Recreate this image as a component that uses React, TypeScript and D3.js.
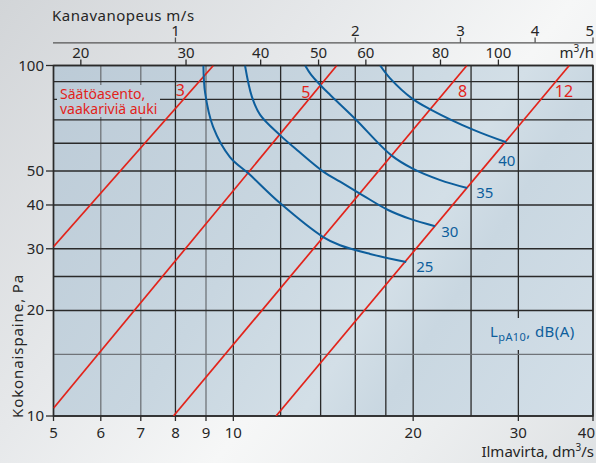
import React from "react";
import * as d3 from "d3";

// ---- data ----
const flowTicks = [5, 6, 7, 8, 9, 10, 20, 30, 40];
const flowGrid = [5, 6, 7, 8, 9, 10, 12, 14, 16, 18, 20, 25, 30, 40];
const flowGridLight = [6, 7, 9];
const pressureTicks = [10, 20, 30, 40, 50, 100];
const pressureGrid = [10, 15, 20, 25, 30, 40, 50, 60, 70, 80, 90, 100];
const pressureGridLight = [15];
const velocityTicks = [1, 2, 3, 4, 5]; // m/s
const ductAreaDm2 = 0.8; // q [dm3/s] = v [m/s] * 10 * A [dm2]
const m3hTicks = [20, 30, 40, 50, 60, 80, 100]; // m3/h

const damperLabels = ["3", "5", "8", "12"];
const damper3 = [[5, 30.4], [9.26, 100]];
const damper5 = [[5, 10.52], [14.9, 100]];
const damper8 = [[7.94, 10], [24.6, 100]];
const damper12 = [[11.79, 10], [36.5, 100]];
const damperLines = [damper3, damper5, damper8, damper12];

const soundLabels = ["25", "30", "35", "40"];
const sound25 = [[8.91, 100], [8.97, 83.5], [9.25, 66.8], [9.87, 54.8], [10.63, 49.0], [11.97, 40.5], [14.14, 32.4], [15.09, 30.7], [16.94, 29.0], [19.47, 27.5]];
const sound30 = [[10.46, 100], [10.74, 81.5], [11.09, 72.3], [11.97, 63.3], [12.78, 57.4], [14.14, 49.8], [15.09, 46.6], [16.44, 42.7], [18.16, 38.7], [19.77, 36.5], [21.77, 34.8]];
const sound35 = [[13.19, 100], [13.5, 94.0], [14.07, 87.0], [14.53, 82.4], [16.0, 70.4], [18.37, 55.5], [20.0, 50.7], [22.2, 47.1], [24.63, 44.7]];
const sound40 = [[17.61, 100], [18.3, 91.9], [19.9, 80.6], [21.36, 75.0], [25.24, 65.5], [28.63, 60.4]];
const soundCurves = [sound25, sound30, sound35, sound40];

// ---- layout ----
const W = 596, H = 463;
const X0 = 53.5, X1 = 593, Y0 = 65.5, Y1 = 416;
const FONT = "'Noto Sans', 'Open Sans', sans-serif";
const RED = "#e2231a";
const BLUE = "#0d5e9c";
const TXT = "#262626";
const damperLabelPos = [[-16, 96], [-15, 98], [12, 96.5], [11, 96.7]]; // dx from line at p=88, baseline y
const soundLabelOff = [[10, 10], [6, 11], [9, 10], [-8, 24]];

export default function App() {
  const x = d3.scaleLog().domain([5, 40]).range([X0, X1]);
  const y = d3.scaleLog().domain([10, 100]).range([Y1, Y0]);
  const line = d3.line<number[]>().x(d => x(d[0])).y(d => y(d[1]));
  const curve = d3.line<number[]>().x(d => x(d[0])).y(d => y(d[1])).curve(d3.curveCatmullRom.alpha(0.5));

  const damperXAt = (ln: number[][], p: number) => {
    const [a, b] = ln;
    const t = (Math.log(p) - Math.log(a[1])) / (Math.log(b[1]) - Math.log(a[1]));
    const q = Math.exp(Math.log(a[0]) + t * (Math.log(b[0]) - Math.log(a[0])));
    return x(q);
  };

  return (
    <svg width={W} height={H} style={{ position: "absolute", left: 0, top: 0 }} fontFamily={FONT}>
      <defs>
        <linearGradient id="bg" gradientUnits="userSpaceOnUse" x1="0" y1="0" x2="596" y2="463">
          <stop offset="0" stopColor="#d2d5d8" />
          <stop offset="0.35" stopColor="#e6e8ea" />
          <stop offset="0.6" stopColor="#f6f7f7" />
          <stop offset="0.8" stopColor="#eceeef" />
          <stop offset="1" stopColor="#dfe2e4" />
        </linearGradient>
        <linearGradient id="plotbg" gradientUnits="userSpaceOnUse" x1="53" y1="65" x2="593" y2="416">
          <stop offset="0" stopColor="#bccbd7" />
          <stop offset="0.4" stopColor="#c8d6e0" />
          <stop offset="0.62" stopColor="#d3dfe7" />
          <stop offset="0.72" stopColor="#c9d7e1" />
          <stop offset="1" stopColor="#d3dfe8" />
        </linearGradient>
        <clipPath id="plotclip">
          <rect x={X0} y={Y0} width={X1 - X0} height={Y1 - Y0} />
        </clipPath>
      </defs>
      <rect x={0} y={0} width={W} height={H} fill="url(#bg)" />
      <rect x={X0} y={Y0} width={X1 - X0} height={Y1 - Y0} fill="url(#plotbg)" />

      {/* grid */}
      {flowGrid.map(v => (
        <line key={"vx" + v} x1={x(v)} x2={x(v)} y1={Y0} y2={Y1}
          stroke={flowGridLight.includes(v) ? "#6f7378" : "#2a2a2a"} strokeWidth={1.3} />
      ))}
      {pressureGrid.map(v => (
        <line key={"hy" + v} x1={X0} x2={X1} y1={y(v)} y2={y(v)}
          stroke={pressureGridLight.includes(v) ? "#6f7378" : "#2a2a2a"} strokeWidth={1.3} />
      ))}

      {/* label backdrops */}
      <rect x={57} y={85} width={103} height={32} fill="url(#plotbg)" />
      <rect x={487} y={318} width={97} height={32} fill="url(#plotbg)" />

      {/* frame */}
      <rect x={X0} y={Y0} width={X1 - X0} height={Y1 - Y0} fill="none" stroke="#2a2a2a" strokeWidth={1.5} />

      {/* damper lines */}
      <g clipPath="url(#plotclip)">
        {damperLines.map((ln, i) => (
          <path key={"d" + i} d={line(ln) || ""} fill="none" stroke={RED} strokeWidth={1.7} />
        ))}
      </g>
      {damperLines.map((ln, i) => (
        <text key={"dl" + i} x={damperXAt(ln, 88) + damperLabelPos[i][0]} y={damperLabelPos[i][1]}
          textAnchor="middle" fontSize={16} fill={RED}>{damperLabels[i]}</text>
      ))}
      <text x={60} y={99.2} fontSize={14} fill={RED}>Säätöasento,</text>
      <text x={60} y={113.7} fontSize={14} fill={RED}>vaakariviä auki</text>

      {/* sound curves */}
      <g clipPath="url(#plotclip)">
        {soundCurves.map((c, i) => (
          <path key={"s" + i} d={curve(c) || ""} fill="none" stroke={BLUE} strokeWidth={2} />
        ))}
      </g>
      {soundCurves.map((c, i) => {
        const e = c[c.length - 1];
        return (
          <text key={"sl" + i} x={x(e[0]) + soundLabelOff[i][0]} y={y(e[1]) + soundLabelOff[i][1]}
            fontSize={15} fill={BLUE}>{soundLabels[i]}</text>
        );
      })}
      <text x={490} y={337} fontSize={15} fill={BLUE} letterSpacing={0.4}>
        L<tspan fontSize={11} dy={3.5}>pA10</tspan><tspan dy={-3.5}>, dB(A)</tspan>
      </text>

      {/* left axis */}
      {pressureTicks.map(v => (
        <g key={"py" + v}>
          <line x1={46} x2={X0} y1={y(v)} y2={y(v)} stroke="#2a2a2a" strokeWidth={1.3} />
          <text x={44} y={y(v) + 5} textAnchor="end" fontSize={15} fill={TXT}>{v}</text>
        </g>
      ))}
      <text transform={`translate(23,418) rotate(-90)`} fontSize={15} fill={TXT} letterSpacing={0.9}>Kokonaispaine, Pa</text>

      {/* bottom axis */}
      {flowTicks.map(v => (
        <g key={"fx" + v}>
          <line x1={x(v)} x2={x(v)} y1={Y1} y2={421} stroke="#2a2a2a" strokeWidth={1.3} />
          <text x={v === 40 ? 595 : x(v)} y={437.5} textAnchor={v === 40 ? "end" : "middle"} fontSize={15} fill={TXT}>{v}</text>
        </g>
      ))}
      <text x={594} y={457} textAnchor="end" fontSize={15} fill={TXT}>
        Ilmavirta, dm<tspan fontSize={10} dy={-6}>3</tspan><tspan dy={6}>/s</tspan>
      </text>

      {/* top m3/h axis */}
      {m3hTicks.map(v => {
        const q = v / 3.6;
        return (
          <g key={"m" + v}>
            <line x1={x(q)} x2={x(q)} y1={59.5} y2={Y0} stroke="#2a2a2a" strokeWidth={1.3} />
            <text x={x(q)} y={58.3} textAnchor="middle" fontSize={15} fill={TXT}>{v}</text>
          </g>
        );
      })}
      <text x={594} y={58.3} textAnchor="end" fontSize={15} fill={TXT}>
        m<tspan fontSize={10} dy={-6}>3</tspan><tspan dy={6}>/h</tspan>
      </text>

      {/* top velocity axis */}
      <line x1={X0 - 0.5} x2={X1 + 0.5} y1={42.8} y2={42.8} stroke="#555" strokeWidth={1.3} />
      {velocityTicks.map(v => {
        const q = v * 10 * ductAreaDm2;
        const xx = x(q);
        return (
          <g key={"v" + v}>
            <line x1={xx} x2={xx} y1={37.5} y2={42.8} stroke="#555" strokeWidth={1.3} />
            <text x={v === 5 ? 594 : xx} y={36} textAnchor={v === 5 ? "end" : "middle"} fontSize={15} fill={TXT}>{v}</text>
          </g>
        );
      })}
      <text x={52} y={21} fontSize={15} fill={TXT} letterSpacing={0.5}>Kanavanopeus m/s</text>
    </svg>
  );
}
